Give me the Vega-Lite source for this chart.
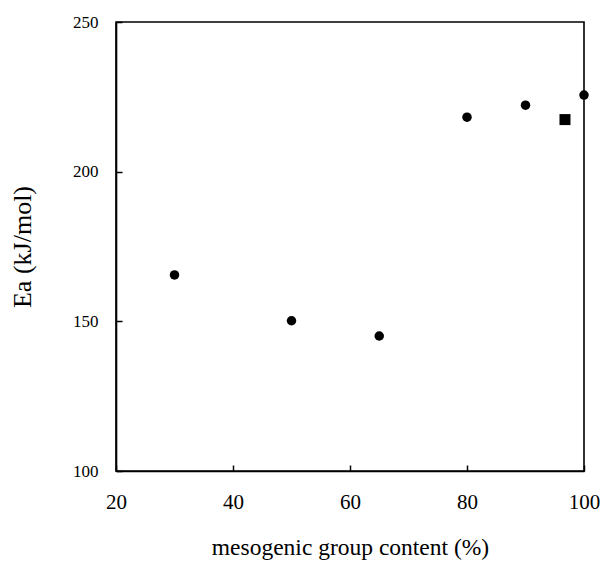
{
  "$schema": "https://vega.github.io/schema/vega-lite/v6.json",
  "autosize": {"type": "none"},
  "padding": {"left": 116, "top": 22, "right": 18, "bottom": 94},
  "width": 468,
  "height": 449,
  "background": "white",
  "config": {
    "font": "Liberation Serif",
    "view": {"stroke": "black", "strokeWidth": 1.6},
    "axis": {
      "grid": false,
      "labelFlush": false,
      "labelOverlap": false,
      "domainColor": "black",
      "domainWidth": 1.6,
      "tickColor": "black",
      "tickWidth": 1.5,
      "tickSize": -6,
      "labelColor": "black",
      "labelFont": "Liberation Serif",
      "titleColor": "black",
      "titleFont": "Liberation Serif",
      "titleFontWeight": "normal"
    }
  },
  "data": {
    "values": [
      {"content": 30, "ea": 165.5, "series": "circle"},
      {"content": 50, "ea": 150.2, "series": "circle"},
      {"content": 65, "ea": 145.1, "series": "circle"},
      {"content": 80, "ea": 218.2, "series": "circle"},
      {"content": 90, "ea": 222.2, "series": "circle"},
      {"content": 100, "ea": 225.6, "series": "circle"},
      {"content": 96.75, "ea": 217.4, "series": "square"}
    ]
  },
  "mark": {"type": "point", "filled": true, "opacity": 1, "color": "black"},
  "encoding": {
    "x": {
      "field": "content",
      "type": "quantitative",
      "scale": {"domain": [20, 100], "nice": false, "zero": false},
      "axis": {
        "title": "mesogenic group content (%)",
        "values": [20, 40, 60, 80, 100],
        "labelFontSize": 21,
        "labelPadding": 26,
        "titleFontSize": 23.5,
        "titlePadding": 23
      }
    },
    "y": {
      "field": "ea",
      "type": "quantitative",
      "scale": {"domain": [100, 250], "nice": false, "zero": false},
      "axis": {
        "title": "Ea (kJ/mol)",
        "values": [100, 150, 200, 250],
        "labelFontSize": 17,
        "labelPadding": 24,
        "titleFontSize": 26,
        "titlePadding": 37
      }
    },
    "shape": {
      "field": "series",
      "type": "nominal",
      "scale": {"domain": ["circle", "square"], "range": ["circle", "square"]},
      "legend": null
    },
    "size": {
      "field": "series",
      "type": "nominal",
      "scale": {"domain": ["circle", "square"], "range": [90, 121]},
      "legend": null
    }
  }
}
